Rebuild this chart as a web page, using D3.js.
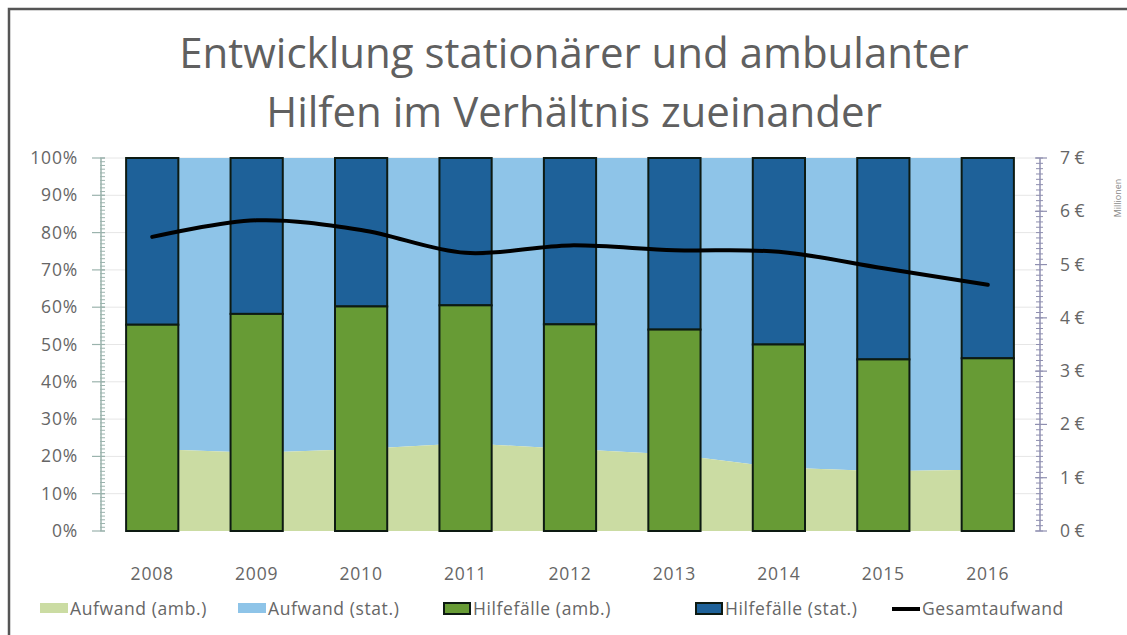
<!DOCTYPE html>
<html>
<head>
<meta charset="utf-8">
<script src="https://cdn.jsdelivr.net/npm/d3@7"></script>
<style>
  body { margin: 0; background: #fff; }
  svg { display: block; }
  text { font-family: "Open Sans", Lato, sans-serif; fill: #666; }
</style>
</head>
<body>
<svg id="chart" width="1127" height="635"></svg>
<script>
// ---- data ----
const years = ["2008","2009","2010","2011","2012","2013","2014","2015","2016"];
const aufwandAmb = [22, 21, 22, 23.5, 22, 20.5, 17, 16, 16.5];          // % (area, bottom)
const hilfeAmb = [55.3, 58.2, 60.2, 60.5, 55.4, 54, 50, 46, 46.3];      // % (bars, bottom)
const gesamt = [5.52, 5.83, 5.65, 5.22, 5.36, 5.27, 5.24, 4.93, 4.62];  // Mio € (right axis)
const leftTicks = [0,10,20,30,40,50,60,70,80,90,100];
const rightTicks = [0,1,2,3,4,5,6,7];
const titleLines = ["Entwicklung stationärer und ambulanter", "Hilfen im Verhältnis zueinander"];
const legendItems = ["Aufwand (amb.)","Aufwand (stat.)","Hilfefälle (amb.)","Hilfefälle (stat.)","Gesamtaufwand"];

const colors = {
  aufAmb: "#cbdca3",
  aufStat: "#8ec4e8",
  hilAmb: "#679b35",
  hilStat: "#1e6199",
  line: "#000"
};

const svg = d3.select("#chart");
const pTop = 158, pBottom = 531, pLeft = 100, pRight = 1040;

// frame
svg.append("rect").attr("x", 9).attr("y", 9).attr("width", 1130).attr("height", 640)
  .attr("fill", "none").attr("stroke", "#555").attr("stroke-width", 2.5);

// title
svg.selectAll("text.title").data(titleLines).join("text")
  .attr("class", "title")
  .attr("x", 574).attr("y", (d, i) => 68 + i * 59)
  .attr("text-anchor", "middle")
  .attr("font-size", 42)
  .style("fill", "#606060")
  .text(d => d);

const x = d3.scaleBand().domain(years).range([pLeft, pRight]).paddingInner(0.5).paddingOuter(0.25);
const y = d3.scaleLinear().domain([0, 100]).range([pBottom, pTop]);
const y2 = d3.scaleLinear().domain([0, 7]).range([pBottom, pTop]);
const cx = d => x(d) + x.bandwidth() / 2;

// gridlines
svg.append("g").selectAll("line").data(leftTicks.slice(1)).join("line")
  .attr("x1", pLeft).attr("x2", pRight)
  .attr("y1", d => y(d)).attr("y2", d => y(d))
  .attr("stroke", "#e6e6e6").attr("stroke-width", 1);

// areas
const pts = years.map((yr, i) => ({ yr, amb: aufwandAmb[i] }));
svg.append("path").datum(pts)
  .attr("fill", colors.aufStat)
  .attr("d", d3.area().x(d => cx(d.yr)).y0(d => y(d.amb)).y1(y(100)));
svg.append("path").datum(pts)
  .attr("fill", colors.aufAmb)
  .attr("d", d3.area().x(d => cx(d.yr)).y0(y(0)).y1(d => y(d.amb)));

// bars
const bars = svg.append("g");
years.forEach((yr, i) => {
  bars.append("rect")
    .attr("x", x(yr)).attr("width", x.bandwidth())
    .attr("y", y(100)).attr("height", y(hilfeAmb[i]) - y(100))
    .attr("fill", colors.hilStat).attr("stroke", "#0d1a12").attr("stroke-width", 2);
  bars.append("rect")
    .attr("x", x(yr)).attr("width", x.bandwidth())
    .attr("y", y(hilfeAmb[i])).attr("height", y(0) - y(hilfeAmb[i]))
    .attr("fill", colors.hilAmb).attr("stroke", "#0d1a12").attr("stroke-width", 2);
});

// line
svg.append("path").datum(gesamt)
  .attr("fill", "none").attr("stroke", colors.line).attr("stroke-width", 4)
  .attr("stroke-linecap", "round")
  .attr("d", d3.line().x((d, i) => cx(years[i])).y(d => y2(d)).curve(d3.curveCatmullRom.alpha(0.5)));

// left axis
const la = svg.append("g");
la.append("line").attr("x1", pLeft + 1).attr("x2", pLeft + 1).attr("y1", pTop).attr("y2", pBottom)
  .attr("stroke", "#9bb3ad").attr("stroke-width", 1.5);
la.selectAll("line.minor").data(d3.range(0, 101, 1)).join("line").attr("class", "minor")
  .attr("x1", pLeft).attr("x2", pLeft + 5)
  .attr("y1", d => y(d)).attr("y2", d => y(d))
  .attr("stroke", "#9bb3ad").attr("stroke-width", 1);
la.selectAll("line.major").data(leftTicks).join("line").attr("class", "major")
  .attr("x1", pLeft - 8).attr("x2", pLeft + 5)
  .attr("y1", d => y(d)).attr("y2", d => y(d))
  .attr("stroke", "#9bb3ad").attr("stroke-width", 1.2);
la.selectAll("text").data(leftTicks).join("text")
  .attr("x", 78).attr("y", d => y(d) + 6)
  .attr("text-anchor", "end").attr("font-size", 17.5).attr("letter-spacing", 0.8)
  .text(d => d + "%");

// right axis
const ra = svg.append("g");
ra.append("line").attr("x1", pRight).attr("x2", pRight).attr("y1", pTop).attr("y2", pBottom)
  .attr("stroke", "#8f8fb0").attr("stroke-width", 1.5);
ra.selectAll("line.minor").data(d3.range(0, 70.5, 1).map(v => v / 10)).join("line").attr("class", "minor")
  .attr("x1", pRight - 4).attr("x2", pRight + 3)
  .attr("y1", d => y2(d)).attr("y2", d => y2(d))
  .attr("stroke", "#8f8fb0").attr("stroke-width", 1);
ra.selectAll("line.major").data(rightTicks).join("line").attr("class", "major")
  .attr("x1", pRight - 5).attr("x2", pRight + 7)
  .attr("y1", d => y2(d)).attr("y2", d => y2(d))
  .attr("stroke", "#8f8fb0").attr("stroke-width", 1.2);
ra.selectAll("text").data(rightTicks).join("text")
  .attr("x", 1060).attr("y", d => y2(d) + 6)
  .attr("text-anchor", "start").attr("font-size", 17.5)
  .text(d => d + " €");
svg.append("text").attr("transform", "translate(1121,198) rotate(-90)")
  .attr("text-anchor", "middle").attr("font-size", 9).style("fill", "#8a8a8a")
  .text("Millionen");

// x labels
svg.append("g").selectAll("text").data(years).join("text")
  .attr("x", d => cx(d)).attr("y", 580)
  .attr("text-anchor", "middle").attr("font-size", 17.5).attr("letter-spacing", 0.8)
  .text(d => d);

// legend
const legX = [40, 238, 443, 695, 892];
const lg = svg.append("g");
legendItems.forEach((name, i) => {
  const lx = legX[i], ly = 609;
  if (i < 2) {
    lg.append("rect").attr("x", lx).attr("y", ly - 6).attr("width", 28).attr("height", 10)
      .attr("fill", i === 0 ? colors.aufAmb : colors.aufStat);
  } else if (i < 4) {
    lg.append("rect").attr("x", lx + 1).attr("y", ly - 6).attr("width", 26).attr("height", 11)
      .attr("fill", i === 2 ? colors.hilAmb : colors.hilStat)
      .attr("stroke", "#0d1a12").attr("stroke-width", 2);
  } else {
    lg.append("line").attr("x1", lx).attr("x2", lx + 28).attr("y1", ly).attr("y2", ly)
      .attr("stroke", "#000").attr("stroke-width", 4);
  }
  lg.append("text").attr("x", lx + 30).attr("y", ly + 6).attr("font-size", 17.5)
    .attr("letter-spacing", 0.6).text(name);
});
</script>
</body>
</html>
